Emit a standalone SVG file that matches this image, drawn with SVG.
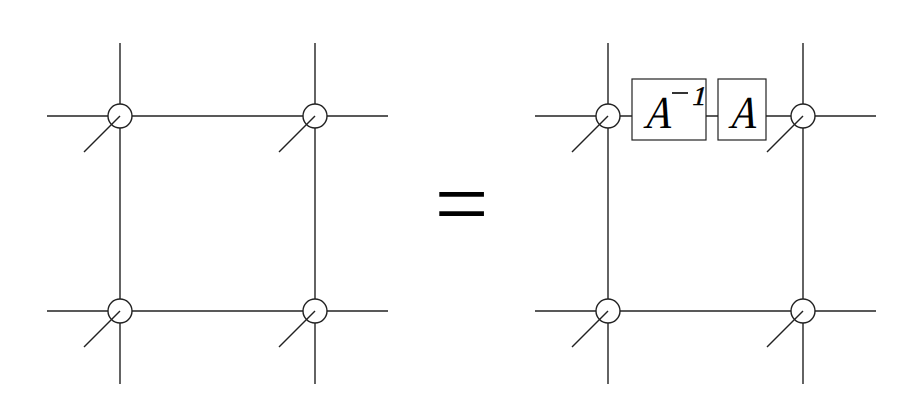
<svg xmlns="http://www.w3.org/2000/svg" width="897" height="411" viewBox="0 0 897 411">
<style>
.l{stroke:#222;stroke-width:1.4;fill:none}
.c{stroke:#222;stroke-width:1.4;fill:#fff}
.b{stroke:#222;stroke-width:1.2;fill:#fff}
.t{font-family:"Liberation Serif",serif;fill:#000}
</style>
<rect width="897" height="411" fill="#fff"/>
<g id="connectors">
<line class="l" x1="47" y1="116" x2="388" y2="116"/>
<line class="l" x1="47" y1="311" x2="388" y2="311"/>
<line class="l" x1="120" y1="43" x2="120" y2="384"/>
<line class="l" x1="315" y1="43" x2="315" y2="384"/>
<line class="l" x1="535" y1="116" x2="876" y2="116"/>
<line class="l" x1="535" y1="311" x2="876" y2="311"/>
<line class="l" x1="608" y1="43" x2="608" y2="384"/>
<line class="l" x1="803" y1="43" x2="803" y2="384"/>
</g>
<g id="node-l-tl"><circle class="c" cx="120" cy="116" r="12"/><line class="l" x1="120" y1="116" x2="84" y2="152"/></g>
<g id="node-l-tr"><circle class="c" cx="315" cy="116" r="12"/><line class="l" x1="315" y1="116" x2="279" y2="152"/></g>
<g id="node-l-bl"><circle class="c" cx="120" cy="311" r="12"/><line class="l" x1="120" y1="311" x2="84" y2="347"/></g>
<g id="node-l-br"><circle class="c" cx="315" cy="311" r="12"/><line class="l" x1="315" y1="311" x2="279" y2="347"/></g>
<g id="node-r-tl"><circle class="c" cx="608" cy="116" r="12"/><line class="l" x1="608" y1="116" x2="572" y2="152"/></g>
<g id="node-r-tr"><circle class="c" cx="803" cy="116" r="12"/><line class="l" x1="803" y1="116" x2="767" y2="152"/></g>
<g id="node-r-bl"><circle class="c" cx="608" cy="311" r="12"/><line class="l" x1="608" y1="311" x2="572" y2="347"/></g>
<g id="node-r-br"><circle class="c" cx="803" cy="311" r="12"/><line class="l" x1="803" y1="311" x2="767" y2="347"/></g>
<g id="box-ainv">
<rect class="b" x="632" y="79" width="74" height="61"/>
<text class="t" transform="translate(643,128) skewX(-14) scale(0.85,1)" font-size="46">A</text>
<text class="t" transform="translate(691,105) skewX(-14)" font-size="27" stroke="#000" stroke-width="0.6">1</text>
<line stroke="#000" stroke-width="1.6" x1="672" y1="93" x2="688" y2="93"/>
</g>
<g id="box-a">
<rect class="b" x="718" y="79" width="48" height="61"/>
<text class="t" transform="translate(728,128) skewX(-14) scale(0.85,1)" font-size="46">A</text>
</g>
<g id="equals">
<text class="t" x="461.5" y="236" font-size="96" text-anchor="middle">=</text>
</g>
</svg>
